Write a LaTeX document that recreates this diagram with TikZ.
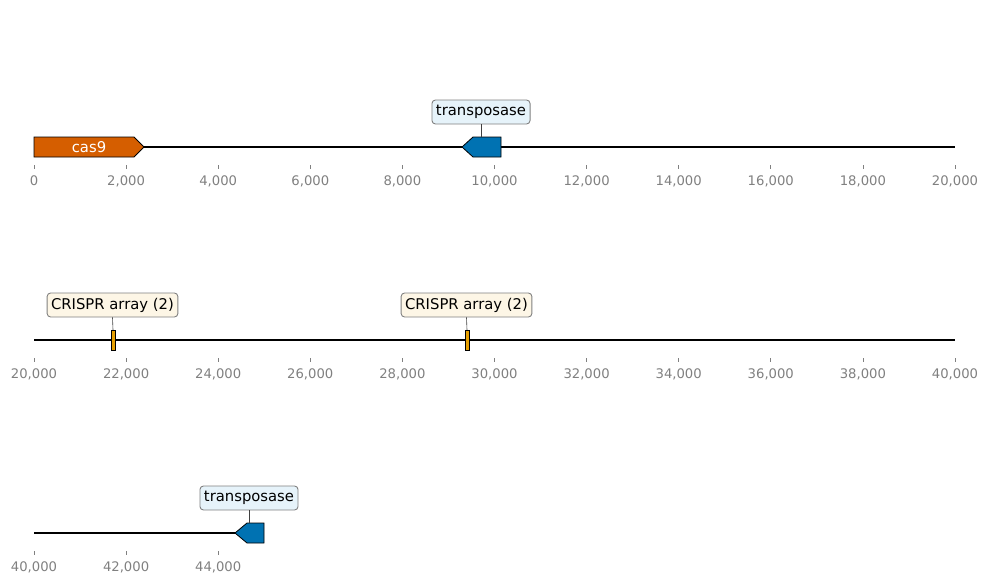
\documentclass[tikz,border=0pt]{standalone}
\usepackage{fontspec}
\setmainfont{DejaVu Sans}
\definecolor{casorange}{HTML}{D55E00}
\definecolor{tnpblue}{HTML}{0072B2}
\definecolor{crisprorange}{HTML}{E69F00}
\definecolor{tnpbg}{RGB}{230,243,250}
\definecolor{crisprbg}{RGB}{253,246,230}
\definecolor{tickgrey}{RGB}{128,128,128}
\definecolor{boxedge}{RGB}{128,128,128}
\tikzset{
  axisline/.style={line width=1.5pt, black},
  genebox/.style={draw=black, line width=0.8pt},
  ticklbl/.style={text=tickgrey, font=\fontsize{13.2}{15}\selectfont, inner sep=0pt, anchor=center},
  tickmark/.style={draw=tickgrey, line width=0.8pt},
  featlbl/.style={draw=boxedge, line width=0.9pt, rounded corners=3.5pt, inner xsep=4pt, inner ysep=3pt, font=\fontsize{14.8}{16}\selectfont, text=black, minimum height=24pt},
  leader/.style={draw=black!75, line width=0.6pt}
}
\begin{document}
\begin{tikzpicture}[x=1pt,y=-1pt]
\useasboundingbox (0,0) rectangle (989,584);
% ---------- row 1 ----------
\draw[axisline] (34,147) -- (955,147);
\foreach \i in {0,...,10}{
  \pgfmathsetmacro{\xx}{34+92.1*\i}
  \pgfmathtruncatemacro{\vv}{2*\i}
  \draw[tickmark] (\xx,165) -- (\xx,169);
  \node[ticklbl] at (\xx,181) {\ifnum\vv=0 0\else\vv,000\fi};
}
\fill[casorange] (34,137) -- (134,137) -- (144,147) -- (134,157) -- (34,157) -- cycle;
\draw[genebox] (34,137) -- (134,137) -- (144,147) -- (134,157) -- (34,157) -- cycle;
\node[text=white, font=\fontsize{14.8}{16}\selectfont] (cas) at (89,147) {cas9};
\fill[tnpblue] (501,137) -- (473,137) -- (462,147) -- (473,157) -- (501,157) -- cycle;
\draw[genebox] (501,137) -- (473,137) -- (462,147) -- (473,157) -- (501,157) -- cycle;
\coordinate (t1top) at (481,137);
\node[featlbl, fill=tnpbg] (t1lbl) at (481,112) {transposase};
\draw[leader] (t1lbl.south) -- (t1top);
% ---------- row 2 ----------
\draw[axisline] (34,340) -- (955,340);
\foreach \i in {0,...,10}{
  \pgfmathsetmacro{\xx}{34+92.1*\i}
  \pgfmathtruncatemacro{\vv}{20+2*\i}
  \draw[tickmark] (\xx,358) -- (\xx,362);
  \node[ticklbl] at (\xx,374) {\vv,000};
}
\draw[genebox, fill=crisprorange] (111,330) rectangle (115,350);
\coordinate (c1top) at (113,330);
\node[featlbl, fill=crisprbg] (c1lbl) at (112.5,305) {CRISPR array (2)};
\draw[leader] (c1lbl.south) -- (c1top);
\draw[genebox, fill=crisprorange] (465,330) rectangle (469,350);
\coordinate (c2top) at (467,330);
\node[featlbl, fill=crisprbg] (c2lbl) at (466.5,305) {CRISPR array (2)};
\draw[leader] (c2lbl.south) -- (c2top);
% ---------- row 3 ----------
\draw[axisline] (34,533) -- (250,533);
\foreach \i in {0,1,2}{
  \pgfmathsetmacro{\xx}{34+92.1*\i}
  \pgfmathtruncatemacro{\vv}{40+2*\i}
  \draw[tickmark] (\xx,551) -- (\xx,555);
  \node[ticklbl] at (\xx,567) {\vv,000};
}
\fill[tnpblue] (264,523) -- (247,523) -- (235,533) -- (247,543) -- (264,543) -- cycle;
\draw[genebox] (264,523) -- (247,523) -- (235,533) -- (247,543) -- (264,543) -- cycle;
\coordinate (t3top) at (249,523);
\node[featlbl, fill=tnpbg] (t3lbl) at (249,498) {transposase};
\draw[leader] (t3lbl.south) -- (t3top);
\end{tikzpicture}
\end{document}
